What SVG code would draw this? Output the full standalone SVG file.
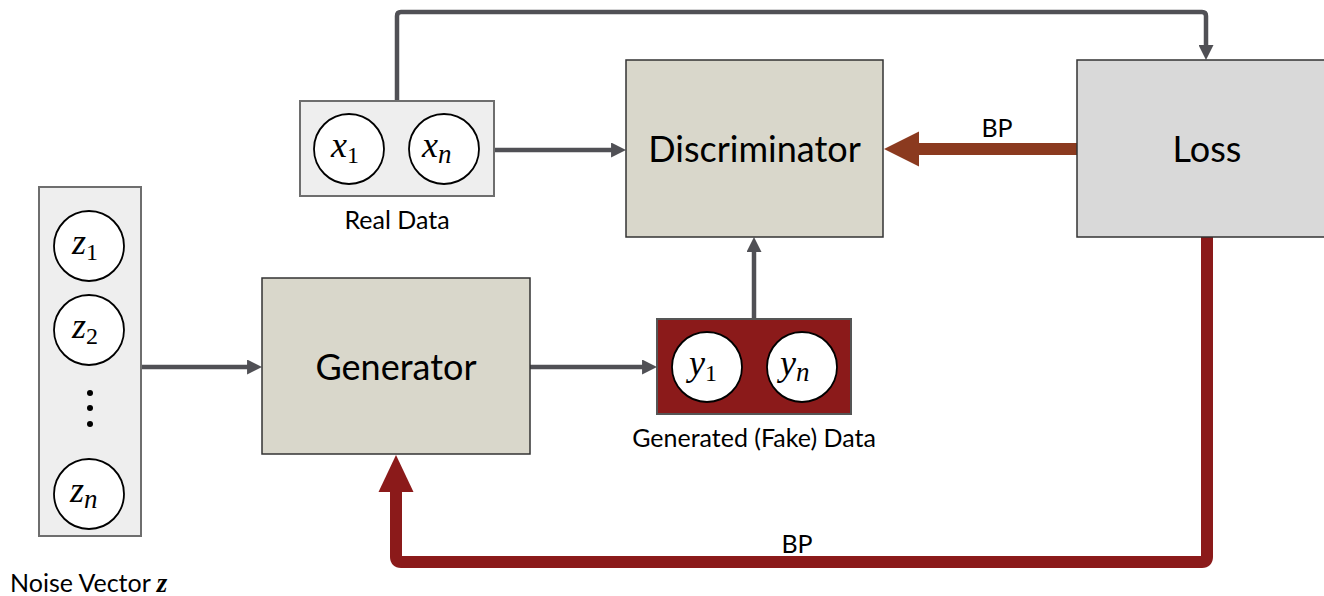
<svg xmlns="http://www.w3.org/2000/svg" width="1324" height="596" viewBox="0 0 1324 596">
<defs>
<style>
.box{stroke:#333;stroke-width:1.5}
.proc{fill:#d9d7cb}
.vec{fill:#eeeeee;stroke:#6e6e6e;stroke-width:2}
.circ{fill:#fff;stroke:#000;stroke-width:1.8}
.lbl{font-family:Lato,"Open Sans",sans-serif;fill:#000}
.big{font-size:36px}
.small{font-size:25px}
.math{font-family:"Liberation Serif","DejaVu Serif",serif;font-style:italic;font-size:36px;fill:#000}
.sub{font-style:normal;font-size:24px}
.gray{fill:none;stroke:#505055;stroke-width:4.5}
</style>
<marker id="ag" viewBox="0 0 10 10" refX="3.3" refY="5" markerWidth="15" markerHeight="15" markerUnits="userSpaceOnUse" orient="auto">
<path d="M0,0 L10,5 L0,10 Z" fill="#505055"/>
</marker>
</defs>
<rect width="1324" height="596" fill="#fff"/>

<g id="connectors">
<path class="gray" d="M141,367 H252" marker-end="url(#ag)"/>
<path class="gray" d="M530,367 H647" marker-end="url(#ag)"/>
<path class="gray" d="M754,319 V247" marker-end="url(#ag)"/>
<path class="gray" d="M494,150 H616" marker-end="url(#ag)"/>
<path class="gray" d="M397,101 V16 Q397,12 401,12 H1202 Q1206,12 1206,16 V50" marker-end="url(#ag)"/>
<path d="M1077,149 H918" fill="none" stroke="#8b3a1f" stroke-width="12"/>
<path d="M884,149 L919,131.5 L919,166.5 Z" fill="#8b3a1f"/>
<path d="M1207,237 V557 Q1207,562 1202,562 H401 Q396,562 396,557 V490" fill="none" stroke="#8b1a1a" stroke-width="12"/>
<path d="M396,455 L378.5,492 L413.5,492 Z" fill="#8b1a1a"/>
<text class="lbl small" x="997" y="137" text-anchor="middle">BP</text>
<text class="lbl small" x="797" y="553" text-anchor="middle">BP</text>
</g>

<g id="discriminator">
<rect class="box proc" x="626" y="60" width="257" height="177"/>
<text class="lbl big" x="754.5" y="162" text-anchor="middle">Discriminator</text>
</g>

<g id="loss">
<rect class="box" fill="#d9d9d9" x="1077" y="60" width="262" height="177"/>
<text class="lbl big" x="1207" y="162" text-anchor="middle">Loss</text>
</g>

<g id="generator">
<rect class="box proc" x="262" y="278" width="268" height="176"/>
<text class="lbl big" x="396" y="380" text-anchor="middle">Generator</text>
</g>

<g id="real-data">
<rect class="vec" x="300" y="101" width="194" height="95"/>
<circle class="circ" cx="349" cy="149" r="35"/>
<circle class="circ" cx="444" cy="149" r="35"/>
<text class="math" x="331" y="157">x<tspan class="sub" dy="6">1</tspan></text>
<text class="math" x="422" y="157">x<tspan dy="6" font-size="27">n</tspan></text>
<text class="lbl small" x="397" y="229" text-anchor="middle">Real Data</text>
</g>

<g id="fake-data">
<rect x="657" y="319" width="194" height="95" fill="#8b1a1a" stroke="#555" stroke-width="2"/>
<circle class="circ" cx="707" cy="367" r="35"/>
<circle class="circ" cx="802" cy="367" r="35"/>
<text class="math" x="689" y="375">y<tspan class="sub" dy="6">1</tspan></text>
<text class="math" x="780" y="375">y<tspan dy="6" font-size="27">n</tspan></text>
<text class="lbl small" x="754" y="447" text-anchor="middle">Generated (Fake) Data</text>
</g>

<g id="noise-vector">
<rect class="vec" x="39" y="187" width="102" height="349"/>
<circle class="circ" cx="89" cy="246" r="35"/>
<circle class="circ" cx="89" cy="330" r="35"/>
<circle class="circ" cx="89" cy="494" r="35"/>
<circle cx="90" cy="393" r="3" fill="#000"/>
<circle cx="90" cy="408" r="3" fill="#000"/>
<circle cx="90" cy="424" r="3" fill="#000"/>
<text class="math" x="72" y="254">z<tspan class="sub" dy="6">1</tspan></text>
<text class="math" x="72" y="338">z<tspan class="sub" dy="6">2</tspan></text>
<text class="math" x="70" y="502">z<tspan dy="6" font-size="27">n</tspan></text>
<text class="lbl small" x="10" y="592">Noise Vector <tspan font-family="Liberation Serif,serif" font-style="italic" font-weight="bold" font-size="27">z</tspan></text>
</g>
</svg>
